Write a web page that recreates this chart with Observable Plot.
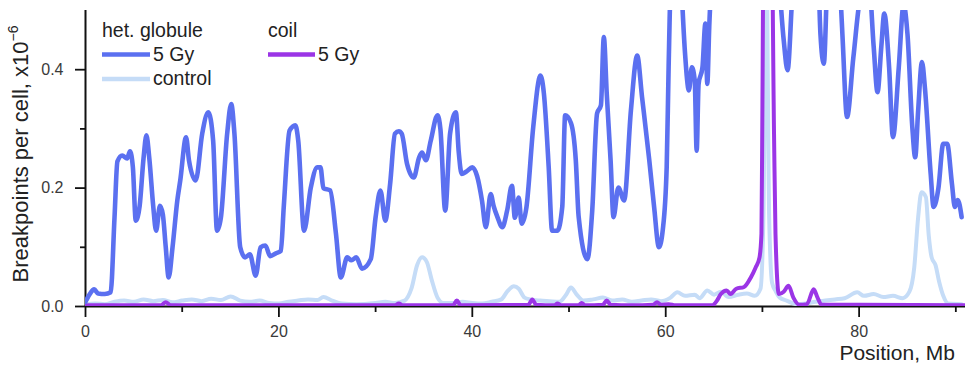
<!DOCTYPE html>
<html>
<head>
<meta charset="utf-8">
<script src="https://cdn.jsdelivr.net/npm/d3@7"></script>
<script src="https://cdn.jsdelivr.net/npm/@observablehq/plot@0.6"></script>
<style>
  html, body { margin: 0; padding: 0; background: #fff; }
  #chart { position: relative; width: 968px; height: 367px; }
</style>
</head>
<body>
<div id="chart"></div>
<script>
// ---- data (Mb position, breakpoints per cell x10^-6) ----
const hetPos = [0.0,0.4,0.9,1.3,2.0,2.6,3.0,3.3,3.8,4.3,4.6,4.9,5.2,5.6,6.0,6.3,6.6,7.0,7.3,7.7,8.0,8.3,8.6,9.0,9.5,9.8,10.4,10.7,11.4,12.07,12.7,13.2,13.6,14.0,14.65,15.07,15.4,16.0,16.5,17.0,17.6,18.1,18.6,19.1,19.7,20.2,20.5,21.1,21.7,22.0,22.6,23.3,23.96,24.3,24.6,25.3,25.9,26.4,27.06,27.5,28.0,28.6,29.5,30.0,30.5,31.0,31.5,32.0,32.4,32.7,33.25,33.95,34.5,34.8,35.2,35.7,36.4,36.7,37.2,37.7,38.3,38.6,38.9,39.4,40.0,40.5,41.0,41.4,41.9,42.2,42.6,43.1,43.6,44.1,44.4,44.8,45.1,45.6,46.3,47.05,47.4,47.9,48.25,48.8,49.3,49.6,50.2,50.7,51.0,51.9,52.4,52.9,53.3,53.6,53.9,54.3,54.6,55.1,55.7,56.4,57.05,57.55,58.3,58.8,59.3,59.7,60.1,60.3,60.6,61.2,61.6,62.0,62.4,62.7,63.0,63.2,63.4,63.8,64.1,64.3,64.5,64.9,66,68,70,71.5,72.2,72.6,73.0,73.4,74.5,75.7,76.0,76.35,76.7,77.5,78.0,78.3,78.75,79.4,80.2,81.0,81.5,81.9,82.3,82.6,83.1,83.5,84.1,84.6,85.0,85.5,85.8,86.1,86.5,86.8,87.4,87.7,88.2,88.7,89.1,89.6,89.9,90.2,90.6];
const het5Gy = [0.008,0.02,0.029,0.022,0.021,0.024,0.15,0.245,0.255,0.25,0.262,0.235,0.145,0.17,0.25,0.289,0.25,0.17,0.128,0.17,0.155,0.1,0.049,0.1,0.18,0.213,0.286,0.247,0.213,0.292,0.328,0.28,0.128,0.15,0.292,0.342,0.292,0.1,0.083,0.088,0.052,0.1,0.103,0.085,0.09,0.094,0.168,0.297,0.306,0.28,0.128,0.201,0.235,0.235,0.2,0.196,0.123,0.049,0.083,0.078,0.083,0.064,0.08,0.151,0.196,0.145,0.207,0.292,0.296,0.292,0.241,0.218,0.252,0.26,0.247,0.28,0.323,0.3,0.162,0.292,0.328,0.26,0.224,0.228,0.235,0.22,0.179,0.134,0.19,0.17,0.151,0.134,0.162,0.204,0.15,0.184,0.14,0.168,0.303,0.39,0.36,0.235,0.128,0.128,0.168,0.323,0.31,0.247,0.151,0.08,0.162,0.326,0.34,0.455,0.36,0.247,0.151,0.201,0.179,0.331,0.424,0.354,0.247,0.168,0.1,0.13,0.235,0.404,0.6,0.7,0.55,0.427,0.365,0.404,0.382,0.263,0.376,0.404,0.478,0.376,0.472,0.6,0.75,0.8,0.8,0.6,0.45,0.399,0.5,0.65,0.7,0.6,0.46,0.41,0.55,0.7,0.55,0.45,0.32,0.42,0.53,0.55,0.44,0.362,0.44,0.495,0.404,0.286,0.404,0.51,0.46,0.303,0.252,0.33,0.413,0.37,0.224,0.168,0.2,0.275,0.275,0.207,0.168,0.18,0.151];

const ctrlPos = [0,1,2,3,4,5,6,7,8,9,10,11,12,13,14,15,16,17,18,19,20,21,22,23,24,24.6,25.5,26.5,28,30,31,32,33,33.7,34.3,34.8,35.3,35.8,36.4,37,38,39,40,41,42,43,43.6,44.3,44.8,45.4,46,47,48,49,49.7,50.2,50.8,51.5,52.5,53.5,54.5,55.5,56.5,57.5,58.5,59.5,60.5,61.2,62,63,63.5,64.3,65,65.7,66.5,67.5,68.4,69.2,69.8,70.1,70.4,70.7,71.0,71.4,71.8,72.5,73.5,74.5,75.5,76.5,77.5,78.5,79.8,80.5,81.5,82.5,83.5,84.5,85.2,85.7,86.1,86.45,86.9,87.2,87.5,87.9,88.3,88.7,89.2,90.6];
const ctrlVal = [0.004,0.005,0.004,0.008,0.01,0.008,0.012,0.009,0.011,0.007,0.01,0.012,0.009,0.013,0.011,0.017,0.01,0.008,0.01,0.006,0.005,0.008,0.01,0.012,0.011,0.016,0.01,0.005,0.004,0.006,0.008,0.006,0.01,0.03,0.07,0.083,0.075,0.045,0.015,0.006,0.006,0.008,0.006,0.005,0.008,0.012,0.025,0.034,0.03,0.015,0.012,0.01,0.009,0.008,0.02,0.032,0.02,0.01,0.012,0.015,0.01,0.012,0.008,0.01,0.012,0.009,0.015,0.024,0.018,0.02,0.014,0.027,0.02,0.025,0.016,0.02,0.022,0.018,0.03,0.15,0.6,0.15,0.04,0.025,0.015,0.01,0.004,0.005,0.008,0.01,0.012,0.014,0.024,0.018,0.021,0.016,0.018,0.014,0.025,0.066,0.15,0.193,0.185,0.12,0.083,0.07,0.04,0.018,0.005,0.004];

const coilPos = [0,7.8,8.3,8.8,32,32.4,32.8,38,38.4,38.8,45.8,46.2,46.6,48.5,48.8,49.2,51,51.3,51.7,53.5,53.9,54.3,56.5,58.7,59.1,59.5,60.3,61,64.8,65.3,65.7,66.3,66.7,67.3,68.1,68.8,69.3,69.7,69.9,70.0,70.15,70.9,71.2,71.35,71.7,72.2,72.7,73.2,73.8,74.6,75.3,75.7,76.1,78,80,91];
const coil5Gy = [0.002,0.002,0.007,0.002,0.002,0.005,0.002,0.002,0.01,0.002,0.003,0.012,0.003,0.002,0.005,0.002,0.002,0.006,0.002,0.003,0.01,0.003,0.002,0.003,0.007,0.003,0.004,0.002,0.002,0.01,0.021,0.027,0.021,0.03,0.033,0.049,0.066,0.083,0.123,0.34,0.7,0.7,0.292,0.123,0.021,0.025,0.035,0.015,0.003,0.004,0.029,0.015,0.003,0.003,0.003,0.002];

const xTicks = [0, 20, 40, 60, 80];
const xMinorTicks = [10, 30, 50, 70, 90];
const yTicks = [0, 0.2, 0.4];
const yMinorTicks = [0.1, 0.3];

const het = hetPos.map((p, i) => ({pos: p, val: het5Gy[i]}));
const ctrl = ctrlPos.map((p, i) => ({pos: p, val: ctrlVal[i]}));
const coil = coilPos.map((p, i) => ({pos: p, val: coil5Gy[i]}));

const C_HET = "#5b70f0", C_CTRL = "#c5dcf7", C_COIL = "#9b35e6";
const FONT = "'Liberation Sans', Arial, Helvetica, sans-serif";

const chart = Plot.plot({
  width: 968,
  height: 367,
  marginLeft: 85,
  marginRight: 3,
  marginTop: 10,
  marginBottom: 61,
  style: {fontFamily: FONT, background: "#fff", overflow: "visible"},
  x: {domain: [0, 91]},
  y: {domain: [0, 0.5]},
  marks: [
    Plot.axisX({ticks: xTicks, tickSize: 11, tickPadding: 8, fontSize: 16, tickFormat: d => String(d), label: null, strokeWidth: 1.8, stroke: "#111", fill: "#3a3a3a"}),
    Plot.axisX({ticks: xMinorTicks, tickSize: 6, tickFormat: () => "", label: null, strokeWidth: 1.8, stroke: "#111"}),
    Plot.axisY({ticks: yTicks, tickSize: 10, tickPadding: 12, fontSize: 16, tickFormat: d3.format(".1f"), label: null, strokeWidth: 1.8, stroke: "#111", fill: "#3a3a3a"}),
    Plot.axisY({ticks: yMinorTicks, tickSize: 5, tickFormat: () => "", label: null, strokeWidth: 1.8, stroke: "#111"}),
    Plot.ruleY([0], {stroke: "#111", strokeWidth: 2}),
    Plot.ruleX([0], {stroke: "#111", strokeWidth: 2}),
    Plot.line(ctrl, {x: "pos", y: "val", stroke: C_CTRL, strokeWidth: 4, clip: true, curve: "monotone-x", strokeLinejoin: "round"}),
    Plot.line(coil, {x: "pos", y: "val", stroke: C_COIL, strokeWidth: 4, clip: true, curve: "monotone-x", strokeLinejoin: "round"}),
    Plot.line(het, {x: "pos", y: "val", stroke: C_HET, strokeWidth: 4.6, clip: true, curve: "monotone-x", strokeLinejoin: "round"})
  ]
});

document.getElementById("chart").appendChild(chart);

const svg = d3.select(chart);
// y-axis title
const yt = svg.append("text")
  .attr("transform", "translate(28,154) rotate(-90)")
  .attr("text-anchor", "middle")
  .attr("font-family", FONT)
  .attr("font-size", 22)
  .attr("fill", "#222");
yt.append("tspan").text("Breakpoints per cell, x10");
yt.append("tspan").attr("font-size", 14).attr("dy", "-0.75em").text("\u22126");

// x-axis title
svg.append("text")
  .attr("x", 955).attr("y", 360)
  .attr("text-anchor", "end")
  .attr("font-family", FONT)
  .attr("font-size", 21)
  .attr("fill", "#222")
  .text("Position, Mb");

// legend
const lg = svg.append("g").attr("font-family", FONT).attr("font-size", 19.5).attr("fill", "#222").attr("text-anchor", "start");
lg.append("text").attr("x", 102).attr("y", 37).text("het. globule");
lg.append("line").attr("x1", 102).attr("x2", 150).attr("y1", 54.5).attr("y2", 54.5).attr("stroke", C_HET).attr("stroke-width", 4.5);
lg.append("text").attr("x", 153).attr("y", 61).text("5 Gy");
lg.append("line").attr("x1", 102).attr("x2", 150).attr("y1", 79).attr("y2", 79).attr("stroke", C_CTRL).attr("stroke-width", 4.5);
lg.append("text").attr("x", 153).attr("y", 85).text("control");
lg.append("text").attr("x", 268).attr("y", 37).text("coil");
lg.append("line").attr("x1", 268).attr("x2", 315).attr("y1", 54.5).attr("y2", 54.5).attr("stroke", C_COIL).attr("stroke-width", 4.5);
lg.append("text").attr("x", 318).attr("y", 61).text("5 Gy");
</script>
</body>
</html>
